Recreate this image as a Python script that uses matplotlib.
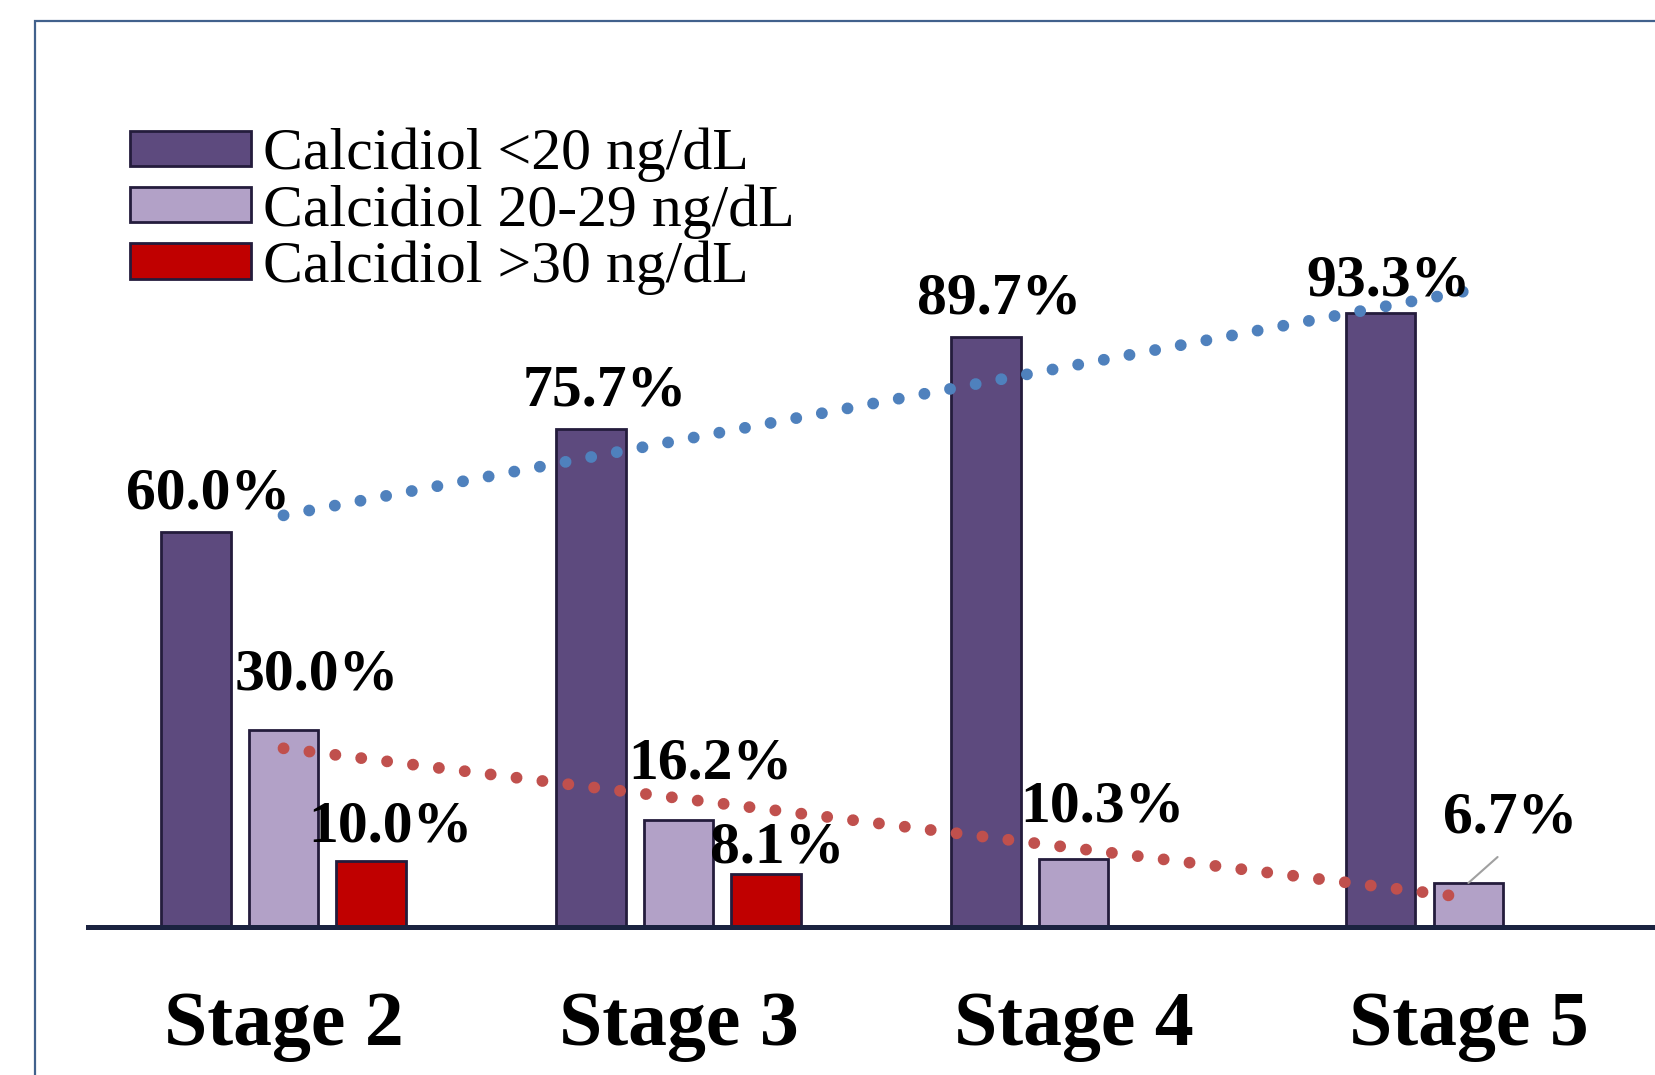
import numpy as np
import matplotlib
matplotlib.use('Agg')
import matplotlib.pyplot as plt
from matplotlib.patches import Rectangle

# chart data
stages = ['Stage 2', 'Stage 3', 'Stage 4', 'Stage 5']
below_20 = [60.0, 75.7, 89.7, 93.3]
from_20_to_29 = [30.0, 16.2, 10.3, 6.7]
above_30 = [10.0, 8.1, None, None]
series_names = ['Calcidiol <20 ng/dL', 'Calcidiol 20-29 ng/dL', 'Calcidiol >30 ng/dL']

colors = ['#5d4a7e', '#b2a1c7', '#c00000']
edge = '#241c3c'

plt.rcParams['font.family'] = ['Liberation Serif', 'DejaVu Serif']

fig = plt.figure(figsize=(16.56, 10.75), dpi=100)
ax = fig.add_axes([88 / 1656, 148 / 1075, 1 - 88 / 1656, 855 / 1075])

x = np.arange(1, len(stages) + 1)
step = 0.222
width = 0.176

all_series = [below_20, from_20_to_29, above_30]
# label offsets in points (dx, dy above bar top)
label_offsets = [
    [(9, 17), (10, 17), (10, 17), (6, 13)],
    [(24, 29), (23, 30), (21, 27), (30, 36)],
    [(14, 14), (8, 8), None, None],
]

for k, vals in enumerate(all_series):
    xs = [xi + (k - 1) * step for xi, v in zip(x, vals) if v is not None]
    hs = [v for v in vals if v is not None]
    ax.bar(xs, hs, width, color=colors[k], edgecolor=edge, linewidth=2,
           label=series_names[k], zorder=2)
    for i, v in enumerate(vals):
        if v is None:
            continue
        dx, dy = label_offsets[k][i]
        xb = x[i] + (k - 1) * step
        if k == 1 and i == 3:
            ax.annotate(f'{v:.1f}%', (xb, v), xytext=(dx, dy), textcoords='offset points',
                        ha='center', va='baseline', fontsize=43, fontweight='bold',
                        arrowprops=dict(arrowstyle='-', color='#a0a0a0', lw=1.5,
                                        relpos=(0.5, 0), shrinkA=9, shrinkB=0),
                        zorder=5)
        else:
            ax.annotate(f'{v:.1f}%', (xb, v), xytext=(dx, dy), textcoords='offset points',
                        ha='center', va='baseline', fontsize=43, fontweight='bold', zorder=5)

# linear trend lines (as in the source chart)
for vals, col in [(below_20, '#4f81bd'), (from_20_to_29, '#c0504d')]:
    slope, icpt = np.polyfit(x, vals, 1)
    ax.plot([x[0], x[-1]], [icpt + slope * x[0], icpt + slope * x[-1]],
            color=col, lw=8.5, linestyle=(0, (0.01, 2.2)), dash_capstyle='round', zorder=4)

ax.set_xlim(0.505, 4.475)
ax.set_ylim(0, 130)
ax.set_xticks(x)
ax.set_xticklabels(stages, fontsize=56, fontweight='bold')
ax.tick_params(axis='x', length=0, pad=46)
ax.set_yticks([])
for s in ['top', 'right', 'left']:
    ax.spines[s].set_visible(False)
ax.spines['bottom'].set_color('#1b2340')
ax.spines['bottom'].set_linewidth(3.6)
ax.spines['bottom'].set_zorder(3)

leg = ax.legend(loc='upper left', bbox_to_anchor=(130 / 1656, 1 - 128 / 1075),
                bbox_transform=fig.transFigure, frameon=False, fontsize=43,
                handlelength=2.03, handleheight=0.535, handletextpad=0.2,
                labelspacing=0.03, borderpad=0, borderaxespad=0)

# outer frame
fig.add_artist(Rectangle((35 / 1656, -0.1), 1.2, 1.1 - 21 / 1075, transform=fig.transFigure,
                         fill=False, edgecolor='#41618c', lw=1.6))

fig.savefig('out.png', dpi=100)
